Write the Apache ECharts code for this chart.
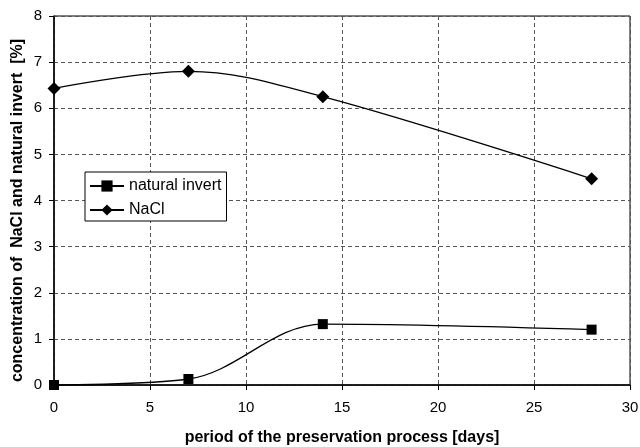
<!DOCTYPE html>
<html>
<head>
<meta charset="utf-8">
<script src="https://cdn.jsdelivr.net/npm/echarts@6/dist/echarts.min.js"></script>
<style>
  html, body { margin: 0; padding: 0; background: #fff; }
  #chart { width: 640px; height: 447px; }
</style>
</head>
<body>
<div id="chart"></div>
<script>
var days = [0, 7, 14, 28]
var invertValues = [0, 0.13, 1.32, 1.2]
var naclValues = [6.43, 6.8, 6.25, 4.47]

var pairs = function (xs, ys) {
  return xs.map(function (x, i) { return [x, ys[i]] })
}

var chart = echarts.init(document.getElementById('chart'))
var font = 'Liberation Sans, Arial, sans-serif'

chart.setOption({
  animation: false,
  textStyle: { fontFamily: font },
  grid: {
    left: 54,
    right: 10,
    top: 16,
    bottom: 62,
    outerBoundsMode: 'none',
    show: true,
    borderColor: '#000',
    borderWidth: 1
  },
  legend: {
    orient: 'vertical',
    left: 85,
    top: 172,
    itemWidth: 34,
    itemHeight: 14,
    itemGap: 8,
    padding: [6, 5, 3, 4],
    backgroundColor: '#fff',
    borderColor: '#000',
    borderWidth: 1,
    borderRadius: 0,
    textStyle: { fontFamily: font, fontSize: 16, color: '#000' },
    data: ['natural invert', 'NaCl']
  },
  xAxis: {
    type: 'value',
    min: 0,
    max: 30,
    interval: 5,
    name: 'period of the preservation process [days]',
    nameLocation: 'middle',
    nameGap: 45,
    nameTextStyle: { fontFamily: font, fontSize: 16, fontWeight: 'bold', color: '#000' },
    axisLine: { lineStyle: { color: '#000', width: 1.5 } },
    axisTick: { show: true, length: 5, lineStyle: { color: '#000' } },
    axisLabel: { fontFamily: font, fontSize: 15, color: '#000', margin: 15 },
    splitLine: { show: true, lineStyle: { color: '#555', type: [4, 3], width: 1 } }
  },
  yAxis: {
    type: 'value',
    min: 0,
    max: 8,
    interval: 1,
    name: 'concentration of  NaCl and natural invert  [%]',
    nameLocation: 'middle',
    nameGap: 28,
    nameMoveOverlap: false,
    nameTextStyle: {
      fontFamily: font,
      fontSize: 16,
      fontWeight: 'bold',
      color: '#000',
      padding: [0, 20, 0, 0]
    },
    axisLine: { show: true, lineStyle: { color: '#000', width: 1.5 } },
    axisTick: { show: true, length: 5, lineStyle: { color: '#000' } },
    axisLabel: { fontFamily: font, fontSize: 15, color: '#000', margin: 12 },
    splitLine: { show: true, lineStyle: { color: '#555', type: [4, 3], width: 1 } }
  },
  series: [
    {
      name: 'natural invert',
      type: 'line',
      smooth: 0.35,
      symbol: 'rect',
      symbolSize: 10,
      itemStyle: { color: '#000' },
      lineStyle: { color: '#000', width: 1.3 },
      data: pairs(days, invertValues)
    },
    {
      name: 'NaCl',
      type: 'line',
      smooth: 0.35,
      symbol: 'diamond',
      symbolSize: 13,
      itemStyle: { color: '#000' },
      lineStyle: { color: '#000', width: 1.3 },
      data: pairs(days, naclValues)
    }
  ]
})
</script>
</body>
</html>
